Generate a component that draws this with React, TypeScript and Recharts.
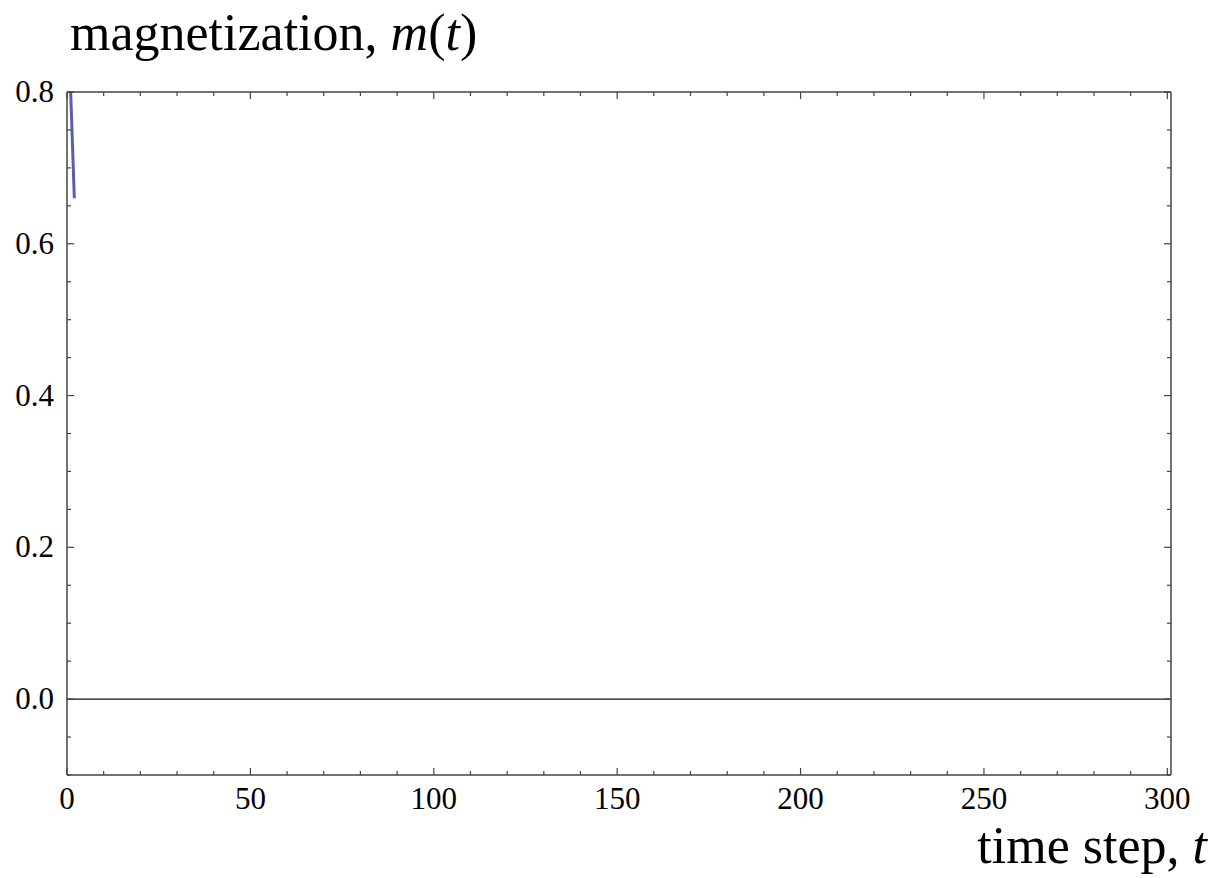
import { Line, LineChart, ReferenceLine, XAxis, YAxis } from 'recharts';

const timeSteps = [1, 2];
const magnetization = [0.8, 0.66];

const xTicks = [0, 10, 20, 30, 40, 50, 60, 70, 80, 90, 100, 110, 120, 130, 140, 150, 160, 170, 180, 190, 200, 210, 220, 230, 240, 250, 260, 270, 280, 290, 300];
const yTicks = [-0.1, -0.05, 0, 0.05, 0.1, 0.15, 0.2, 0.25, 0.3, 0.35, 0.4, 0.45, 0.5, 0.55, 0.6, 0.65, 0.7, 0.75, 0.8];

const data = timeSteps.map((t, i) => ({ t, m: magnetization[i] }));

const frameColor = '#444';
const tickFont = { fontFamily: '"Liberation Serif", serif', fontSize: 31, fill: '#000' };

const isMajorX = (v: number) => Math.abs(v % 50) < 1e-9;
const isMajorY = (v: number) => Math.round(v * 100) % 20 === 0;

const BottomTick = (props: any) => {
  const { x, y, payload } = props;
  const major = isMajorX(payload.value);
  return (
    <g>
      <line x1={x} x2={x} y1={y} y2={y - (major ? 7 : 4)} stroke={frameColor} strokeWidth={1.2} />
      {major && (
        <text x={x} y={y + 34} textAnchor="middle" {...tickFont}>
          {payload.value}
        </text>
      )}
    </g>
  );
};

const TopTick = (props: any) => {
  const { x, y, payload } = props;
  const major = isMajorX(payload.value);
  return <line x1={x} x2={x} y1={y} y2={y + (major ? 7 : 4)} stroke={frameColor} strokeWidth={1.2} />;
};

const LeftTick = (props: any) => {
  const { x, y, payload } = props;
  const major = isMajorY(payload.value);
  return (
    <g>
      <line x1={x} x2={x + (major ? 7 : 4)} y1={y} y2={y} stroke={frameColor} strokeWidth={1.2} />
      {major && (
        <text x={x - 13} y={y + 10} textAnchor="end" {...tickFont}>
          {payload.value.toFixed(1)}
        </text>
      )}
    </g>
  );
};

const RightTick = (props: any) => {
  const { x, y, payload } = props;
  const major = isMajorY(payload.value);
  return <line x1={x} x2={x - (major ? 7 : 4)} y1={y} y2={y} stroke={frameColor} strokeWidth={1.2} />;
};

const labelFont = '"Liberation Serif", serif';

export default function App() {
  return (
    <div style={{ position: 'absolute', left: 0, top: 0, width: 1218, height: 878, background: '#fff' }}>
      <LineChart width={1218} height={878} data={data} margin={{ top: 91, right: 46, bottom: 0, left: 0 }}>
        <XAxis
          xAxisId="bottom"
          dataKey="t"
          type="number"
          domain={[0, 301]}
          allowDataOverflow
          ticks={xTicks}
          interval={0}
          height={103}
          tickSize={0}
          tickMargin={0}
          tickLine={false}
          axisLine={{ stroke: frameColor, strokeWidth: 1.5 }}
          tick={<BottomTick />}
        />
        <XAxis
          xAxisId="top"
          orientation="top"
          dataKey="t"
          type="number"
          domain={[0, 301]}
          allowDataOverflow
          ticks={xTicks}
          interval={0}
          height={1}
          tickSize={0}
          tickMargin={0}
          tickLine={false}
          axisLine={{ stroke: frameColor, strokeWidth: 1.5 }}
          tick={<TopTick />}
        />
        <YAxis
          yAxisId="left"
          type="number"
          domain={[-0.1, 0.8]}
          allowDataOverflow
          ticks={yTicks}
          interval={0}
          width={67}
          tickSize={0}
          tickMargin={0}
          tickLine={false}
          axisLine={{ stroke: frameColor, strokeWidth: 1.5 }}
          tick={<LeftTick />}
        />
        <YAxis
          yAxisId="right"
          orientation="right"
          type="number"
          domain={[-0.1, 0.8]}
          allowDataOverflow
          ticks={yTicks}
          interval={0}
          width={1}
          tickSize={0}
          tickMargin={0}
          tickLine={false}
          axisLine={{ stroke: frameColor, strokeWidth: 1.5 }}
          tick={<RightTick />}
        />
        <ReferenceLine xAxisId="bottom" yAxisId="left" y={0} stroke="#111" strokeWidth={1.2} />
        <Line
          xAxisId="bottom"
          yAxisId="left"
          dataKey="m"
          type="linear"
          stroke="#5a5ea8"
          strokeWidth={3}
          dot={false}
          isAnimationActive={false}
        />
      </LineChart>
      <svg width={1218} height={878} style={{ position: 'absolute', left: 0, top: 0, pointerEvents: 'none' }}>
        <text x={70} y={50} fontFamily={labelFont} fontSize={52} fill="#000">
          magnetization, <tspan fontStyle="italic">m</tspan>(<tspan fontStyle="italic">t</tspan>)
        </text>
        <text x={1207} y={863} textAnchor="end" fontFamily={labelFont} fontSize={52} fill="#000">
          time step, <tspan fontStyle="italic">t</tspan>
        </text>
      </svg>
    </div>
  );
}
